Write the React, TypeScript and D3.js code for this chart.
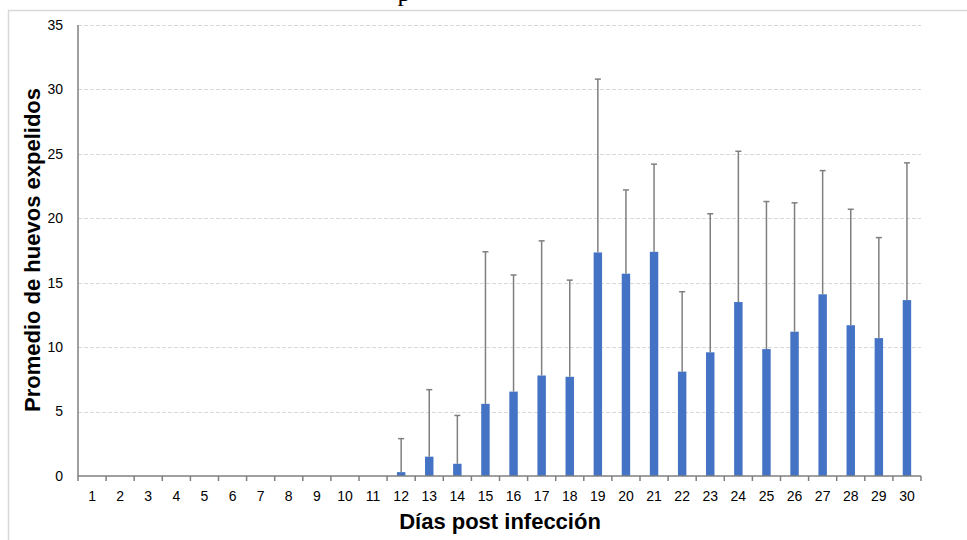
import React, { useEffect, useRef } from "react";
import * as d3 from "d3";

// days post infection
const days = d3.range(1, 31).map(String);
// mean eggs expelled per day
const means = [
  0, 0, 0, 0, 0, 0, 0, 0, 0, 0, 0, 0.3, 1.5, 0.95, 5.6, 6.55, 7.8, 7.7, 17.35,
  15.7, 17.4, 8.1, 9.6, 13.5, 9.85, 11.2, 14.1, 11.7, 10.7, 13.65,
];
// upper end of error bar (mean + sd); null where no bar drawn
const upper = [
  null, null, null, null, null, null, null, null, null, null, null, 2.9, 6.7,
  4.7, 17.4, 15.6, 18.25, 15.2, 30.8, 22.2, 24.2, 14.3, 20.35, 25.2, 21.3,
  21.2, 23.7, 20.7, 18.5, 24.3,
];
const yTicks = [0, 5, 10, 15, 20, 25, 30, 35];

const W = 967;
const H = 540;
const left = 78;
const right = 921;
const top = 25;
const bottom = 476;

const App = () => {
  const svgRef = useRef<SVGSVGElement>(null);

  useEffect(() => {
    const svg = d3.select(svgRef.current);
    svg.selectAll("*").remove();

    const x = d3.scaleBand().domain(days).range([left, right]).paddingInner(0.7).paddingOuter(0.35);
    const y = d3.scaleLinear().domain([0, 35]).range([bottom, top]);
    const step = (right - left) / days.length;

    // frame
    svg.append("line").attr("x1", 8).attr("x2", W).attr("y1", 10.5).attr("y2", 10.5)
      .attr("stroke", "#d9d9d9").attr("stroke-width", 1.5);
    svg.append("line").attr("x1", 8.5).attr("x2", 8.5).attr("y1", 10).attr("y2", H)
      .attr("stroke", "#d9d9d9").attr("stroke-width", 1.5);

    // cut-off caption above (only its descender is visible)
    svg.append("text").attr("x", 404).attr("y", 1).attr("text-anchor", "middle")
      .style("font-family", "'Liberation Serif', serif").style("font-size", "26px").text("p");

    // grid
    svg.append("g").selectAll("line").data(yTicks.filter((d) => d > 0)).join("line")
      .attr("x1", left).attr("x2", right)
      .attr("y1", (d) => Math.round(y(d)) + 0.5).attr("y2", (d) => Math.round(y(d)) + 0.5)
      .attr("stroke", "#d9d9d9").attr("stroke-dasharray", "4,2");

    // y labels
    svg.append("g").selectAll("text").data(yTicks).join("text")
      .attr("x", 63).attr("y", (d) => y(d)).attr("dy", "0.35em").attr("text-anchor", "end")
      .style("font-family", "'Liberation Sans', Arial, sans-serif").style("font-size", "14px")
      .text((d) => d);

    // bars
    svg.append("g").selectAll("rect").data(means).join("rect")
      .attr("x", (_, i) => x(days[i])!)
      .attr("width", x.bandwidth())
      .attr("y", (d) => y(d))
      .attr("height", (d) => bottom - y(d))
      .attr("fill", "#4472c4");

    // error bars
    const eb = svg.append("g");
    const errs = upper.map((u, i) => ({ u, m: means[i], d: days[i] })).filter((e) => e.u != null);
    eb.selectAll("line.v").data(errs).join("line").attr("class", "v")
      .attr("x1", (e) => x(e.d)! + x.bandwidth() / 2).attr("x2", (e) => x(e.d)! + x.bandwidth() / 2)
      .attr("y1", (e) => y(e.m)).attr("y2", (e) => y(e.u as number))
      .attr("stroke", "#7f7f7f").attr("stroke-width", 1.5);
    eb.selectAll("line.c").data(errs).join("line").attr("class", "c")
      .attr("x1", (e) => x(e.d)! + x.bandwidth() / 2 - 3).attr("x2", (e) => x(e.d)! + x.bandwidth() / 2 + 3)
      .attr("y1", (e) => y(e.u as number)).attr("y2", (e) => y(e.u as number))
      .attr("stroke", "#7f7f7f").attr("stroke-width", 1.5);

    // axes lines
    svg.append("line").attr("x1", left).attr("x2", left).attr("y1", top).attr("y2", bottom)
      .attr("stroke", "#7f7f7f").attr("stroke-width", 1.5);
    svg.append("line").attr("x1", left).attr("x2", right).attr("y1", bottom).attr("y2", bottom)
      .attr("stroke", "#7f7f7f").attr("stroke-width", 1.5);

    // x ticks at category boundaries
    svg.append("g").selectAll("line").data(d3.range(days.length + 1)).join("line")
      .attr("x1", (i) => left + i * step).attr("x2", (i) => left + i * step)
      .attr("y1", bottom).attr("y2", bottom + 5)
      .attr("stroke", "#7f7f7f").attr("stroke-width", 1.5);

    svg.append("g").selectAll("text").data(days).join("text")
      .attr("x", (d) => x(d)! + x.bandwidth() / 2).attr("y", 496).attr("dy", "0.35em")
      .attr("text-anchor", "middle")
      .style("font-family", "'Liberation Sans', Arial, sans-serif").style("font-size", "14px")
      .text((d) => d);

    // titles
    svg.append("text").attr("x", 500).attr("y", 529).attr("text-anchor", "middle")
      .style("font-family", "'Liberation Sans', Arial, sans-serif").style("font-size", "22px")
      .style("font-weight", "bold").text("Días post infección");

    svg.append("text").attr("transform", "translate(40,250) rotate(-90)").attr("text-anchor", "middle")
      .style("font-family", "'Liberation Sans', Arial, sans-serif").style("font-size", "22px")
      .style("font-weight", "bold").text("Promedio de huevos expelidos");
  }, []);

  return (
    <div style={{ position: "absolute", left: 0, top: 0 }}>
      <svg ref={svgRef} width={W} height={H} style={{ display: "block", background: "#fff" }} />
    </div>
  );
};

export default App;
